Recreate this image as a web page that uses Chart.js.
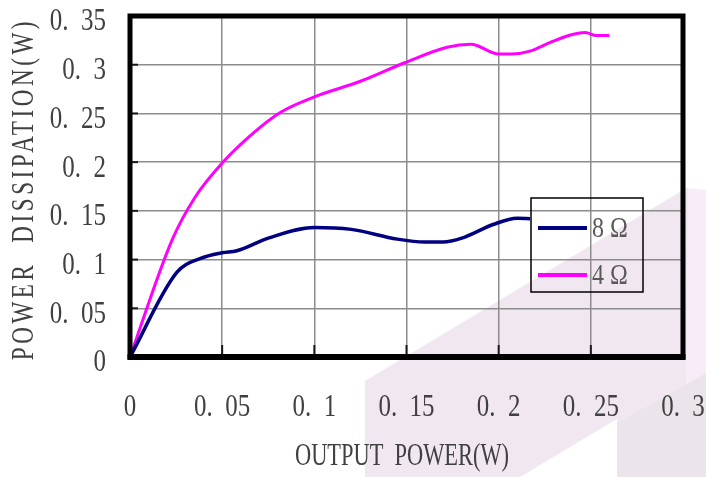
<!DOCTYPE html>
<html>
<head>
<meta charset="utf-8">
<script src="https://cdn.jsdelivr.net/npm/chart.js@4.4.1/dist/chart.umd.min.js"></script>
<style>
  html, body { margin: 0; padding: 0; background: #fff; }
  #myChart { display: block; }
</style>
</head>
<body>
<canvas id="myChart" width="706" height="477"></canvas>
<script>
// values
const xs8 = [0, 0.0255, 0.038, 0.05, 0.058, 0.075, 0.1, 0.12, 0.145, 0.16, 0.17, 0.18, 0.197, 0.21, 0.217];
const ys8 = [0, 0.087, 0.101, 0.107, 0.109, 0.122, 0.133, 0.131, 0.121, 0.118, 0.118, 0.122, 0.136, 0.1425, 0.142];

const xs4 = [0, 0.0228, 0.0353, 0.05, 0.067, 0.0815, 0.1, 0.125, 0.149, 0.172, 0.185, 0.2, 0.207, 0.217, 0.228, 0.24, 0.247, 0.253, 0.26];
const ys4 = [0, 0.12, 0.164, 0.199, 0.23, 0.251, 0.267, 0.283, 0.302, 0.318, 0.321, 0.311, 0.311, 0.314, 0.323, 0.331, 0.333, 0.330, 0.330];

const seriesNames = ["8 Ω", "4 Ω"];
const xTickValues = [0, 0.05, 0.1, 0.15, 0.2, 0.25, 0.3];
const xTickLabels = ["0", "0.  05", "0.  1", "0.  15", "0.  2", "0.  25", "0.  3"];
const yTickValues = [0, 0.05, 0.1, 0.15, 0.2, 0.25, 0.3, 0.35];
const yTickLabels = ["0", "0.  05", "0.  1", "0.  15", "0.  2", "0.  25", "0.  3", "0.  35"];
const xTitle = "OUTPUT  POWER(W)";
const yTitle = "POWER  DISSIPATION(W)";

const toPoints = (xs, ys) => xs.map((x, i) => ({ x: x, y: ys[i] }));

const SERIF = '"Liberation Serif", "DejaVu Serif", serif';

function squeezedText(ctx, text, x, y, size, sx, align, color, rotate, spacing) {
  ctx.save();
  ctx.translate(x, y);
  if (rotate) ctx.rotate(-Math.PI / 2);
  ctx.scale(sx, 1);
  ctx.font = size + "px " + SERIF;
  ctx.letterSpacing = (spacing || 0) + "px";
  ctx.fillStyle = color;
  ctx.textAlign = align;
  ctx.textBaseline = "middle";
  ctx.fillText(text, 0, 0);
  ctx.restore();
}

function poly(ctx, pts, color) {
  ctx.beginPath();
  ctx.moveTo(pts[0][0], pts[0][1]);
  for (let i = 1; i < pts.length; i++) ctx.lineTo(pts[i][0], pts[i][1]);
  ctx.closePath();
  ctx.fillStyle = color;
  ctx.fill();
}

// faint background watermark and all the text / frame
const decor = {
  id: "decor",
  beforeDraw(chart) {
    const ctx = chart.ctx;
    ctx.save();
    poly(ctx, [[706, 190], [706, 373], [686, 384], [686, 188]], "#f7ecf7");
    poly(ctx, [[365, 381], [688, 187], [686, 384], [617, 422], [617, 419], [520, 477], [365, 477]], "#f1e7f1");
    poly(ctx, [[617, 422], [706, 373], [706, 477], [617, 477]], "#ebe5eb");
    ctx.restore();
  },
  afterDraw(chart) {
    const ctx = chart.ctx;
    const a = chart.chartArea;
    const xs = chart.scales.x;
    const ys = chart.scales.y;
    ctx.save();

    // small inner ticks
    ctx.strokeStyle = "#1a1a1a";
    ctx.lineWidth = 2;
    xTickValues.forEach(v => {
      const px = xs.getPixelForValue(v);
      ctx.beginPath();
      ctx.moveTo(px, a.bottom);
      ctx.lineTo(px, a.bottom - 12);
      ctx.stroke();
    });
    yTickValues.forEach(v => {
      const py = ys.getPixelForValue(v);
      ctx.beginPath();
      ctx.moveTo(a.left, py);
      ctx.lineTo(a.left + 8, py);
      ctx.stroke();
    });

    // heavy frame
    ctx.strokeStyle = "#000";
    ctx.lineWidth = 5;
    ctx.strokeRect(a.left, a.top, a.right - a.left, a.bottom - a.top);
    ctx.lineWidth = 6;
    ctx.beginPath();
    ctx.moveTo(a.left - 2.5, a.bottom);
    ctx.lineTo(a.right + 2.5, a.bottom);
    ctx.stroke();

    // tick labels
    xTickValues.forEach((v, i) => {
      squeezedText(ctx, xTickLabels[i], xs.getPixelForValue(v), 408, 32, 0.78, "center", "#404040");
    });
    yTickValues.forEach((v, i) => {
      squeezedText(ctx, yTickLabels[i], 106, ys.getPixelForValue(v) + 6, 32, 0.78, "right", "#404040");
    });

    // axis titles
    squeezedText(ctx, xTitle, 402, 457, 32, 0.70, "center", "#404040", false, 0);
    squeezedText(ctx, yTitle, 25, 189, 32, 0.72, "center", "#404040", true, 5);

    // legend box
    const lx = 531, ly = 198, lw = 112, lh = 94;
    ctx.strokeStyle = "#000";
    ctx.lineWidth = 1.5;
    ctx.strokeRect(lx, ly, lw, lh);
    chart.data.datasets.forEach((ds, i) => {
      const cy = 228 + i * 47;
      ctx.strokeStyle = ds.borderColor;
      ctx.lineWidth = 4;
      ctx.beginPath();
      ctx.moveTo(538, cy);
      ctx.lineTo(587, cy);
      ctx.stroke();
      squeezedText(ctx, ds.label, 592, cy + 1, 30, 0.8, "left", "#5a5a5a");
    });
    ctx.restore();
  }
};

const ctx = document.getElementById("myChart").getContext("2d");

const data = {
  datasets: [
    {
      label: seriesNames[0],
      data: toPoints(xs8, ys8),
      borderColor: "#000080",
      borderWidth: 3.5,
      pointRadius: 0,
      cubicInterpolationMode: "monotone",
      fill: false,
    },
    {
      label: seriesNames[1],
      data: toPoints(xs4, ys4),
      borderColor: "#ff00ff",
      borderWidth: 3,
      pointRadius: 0,
      cubicInterpolationMode: "monotone",
      fill: false,
    },
  ],
};

const config = {
  type: "line",
  data: data,
  options: {
    responsive: false,
    animation: false,
    devicePixelRatio: 1,
    layout: {
      padding: { left: 130, top: 16, right: 23, bottom: 120 },
    },
    plugins: {
      legend: { display: false },
      tooltip: { enabled: false },
    },
    scales: {
      x: {
        type: "linear",
        min: 0,
        max: 0.3,
        ticks: { display: false, stepSize: 0.05 },
        grid: { color: "#8c8c8c", lineWidth: 1.5, drawTicks: false },
        border: { display: false },
      },
      y: {
        type: "linear",
        min: 0,
        max: 0.35,
        ticks: { display: false, stepSize: 0.05 },
        grid: { color: "#8c8c8c", lineWidth: 1.5, drawTicks: false },
        border: { display: false },
      },
    },
  },
  plugins: [decor],
};

const myChart = new Chart(ctx, config);
</script>
</body>
</html>
